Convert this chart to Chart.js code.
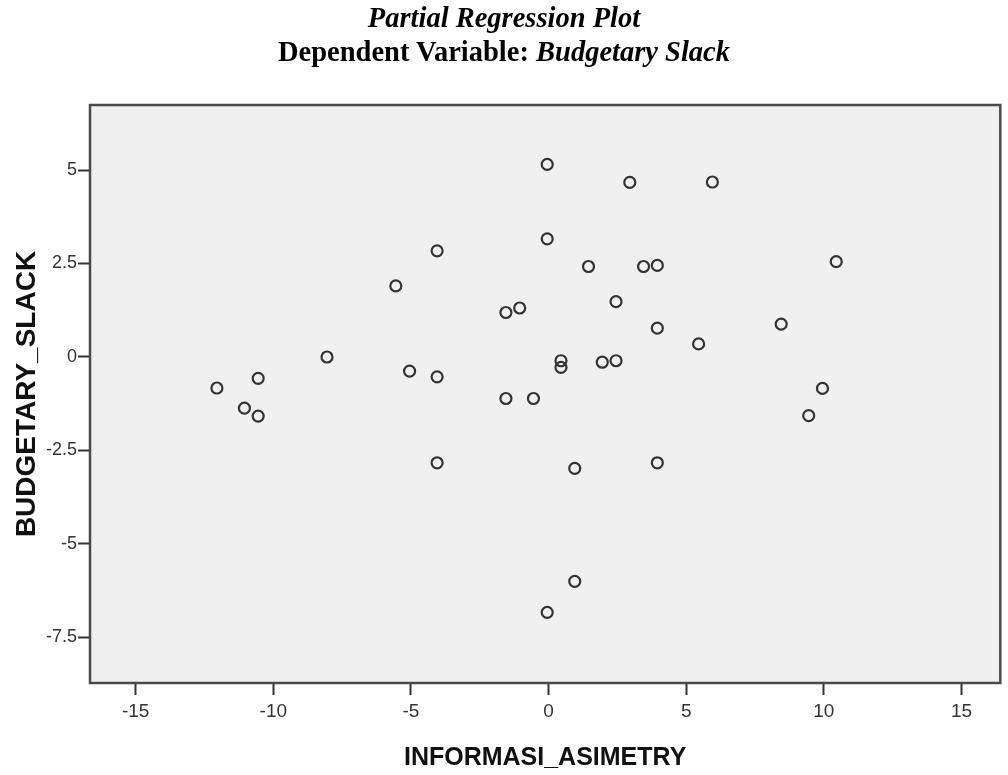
<!DOCTYPE html>
<html>
<head>
<meta charset="utf-8">
<script src="https://cdn.jsdelivr.net/npm/chart.js@4/dist/chart.umd.min.js"></script>
<style>
  body { margin: 0; background: #fff; }
  #wrap { position: relative; width: 1008px; height: 775px; }
  #title {
    position: absolute; left: 0; top: 1px; width: 1008px;
    text-align: center; font-family: "Liberation Serif", "Times New Roman", serif;
    font-weight: bold; font-size: 28.5px; line-height: 34px; color: #000;
  }
  canvas { position: absolute; left: 0; top: 0; }
</style>
</head>
<body>
<div id="wrap">
  <canvas id="plot" width="1008" height="775"></canvas>
  <div id="title"><i>Partial Regression Plot</i><br>Dependent Variable: <i>Budgetary Slack</i></div>
</div>
<script>
// residual values
const xValues = [-12.05, -11.05, -10.55, -10.55, -8.05, -5.55, -5.05, -4.05, -4.05, -4.05,
  -1.55, -1.05, -1.55, -0.55, -0.05, -0.05, 0.45, 0.45, 0.95, 0.95,
  -0.05, 1.45, 1.95, 2.45, 2.45, 2.95, 3.45, 3.95, 3.95, 3.95,
  5.45, 5.95, 8.45, 9.95, 9.45, 10.45];
const yValues = [-0.83, -1.37, -0.57, -1.58, 0.0, 1.9, -0.38, 2.84, -0.53, -2.83,
  1.19, 1.31, -1.11, -1.11, 5.15, 3.16, -0.1, -0.28, -2.98, -6.0,
  -6.83, 2.42, -0.14, -0.1, 1.48, 4.67, 2.42, 2.45, 0.77, -2.83,
  0.35, 4.68, 0.88, -0.84, -1.57, 2.55];

const xTitle = 'INFORMASI_ASIMETRY';
const yTitle = 'BUDGETARY_SLACK';

const points = xValues.map((x, i) => ({ x: x, y: yValues[i] }));

// grey plot background and frame
const frame = {
  id: 'frame',
  beforeDatasetsDraw(chart) {
    const a = chart.chartArea, ctx = chart.ctx;
    ctx.save();
    ctx.fillStyle = '#f0f0f0';
    ctx.fillRect(a.left, a.top, a.right - a.left, a.bottom - a.top);
    ctx.strokeStyle = '#4a4a4a';
    ctx.lineWidth = 2.5;
    ctx.strokeRect(a.left, a.top, a.right - a.left, a.bottom - a.top);
    ctx.restore();
  }
};

const axisFont = { family: 'Liberation Sans, Arial, sans-serif' };

new Chart(document.getElementById('plot'), {
  type: 'scatter',
  data: {
    datasets: [{
      data: points,
      pointStyle: 'circle',
      pointRadius: 5.5,
      pointHoverRadius: 5.5,
      pointBorderWidth: 2.2,
      borderColor: '#333',
      backgroundColor: 'rgba(0,0,0,0)'
    }]
  },
  options: {
    responsive: false,
    animation: false,
    layout: { padding: { top: 105, right: 1, left: 0, bottom: 0 } },
    plugins: { legend: { display: false }, tooltip: { enabled: false } },
    scales: {
      x: {
        type: 'linear',
        min: -16.66, max: 16.41,
        afterFit(s) { s.height = 92; },
        border: { display: false },
        grid: { drawOnChartArea: false, tickLength: 12, tickWidth: 2, tickColor: '#333' },
        ticks: {
          stepSize: 5, includeBounds: false, padding: 5, color: '#333',
          font: { ...axisFont, size: 19 },
          callback: v => String(v)
        },
        title: {
          display: true, text: xTitle, color: '#111',
          font: { ...axisFont, size: 25, weight: 'bold' },
          padding: { top: 0, bottom: 2 }
        }
      },
      y: {
        type: 'linear',
        min: -8.72, max: 6.74,
        afterFit(s) { s.width = 90; },
        border: { display: false },
        grid: { drawOnChartArea: false, tickLength: 12, tickWidth: 2, tickColor: '#333' },
        ticks: {
          stepSize: 2.5, includeBounds: false, padding: 1, color: '#333',
          font: { ...axisFont, size: 18 },
          callback: v => String(v)
        },
        title: {
          display: true, text: yTitle, color: '#111',
          font: { ...axisFont, size: 28, weight: 'bold' },
          padding: { top: 10, bottom: 0 }
        }
      }
    }
  },
  plugins: [frame]
});
</script>
</body>
</html>
